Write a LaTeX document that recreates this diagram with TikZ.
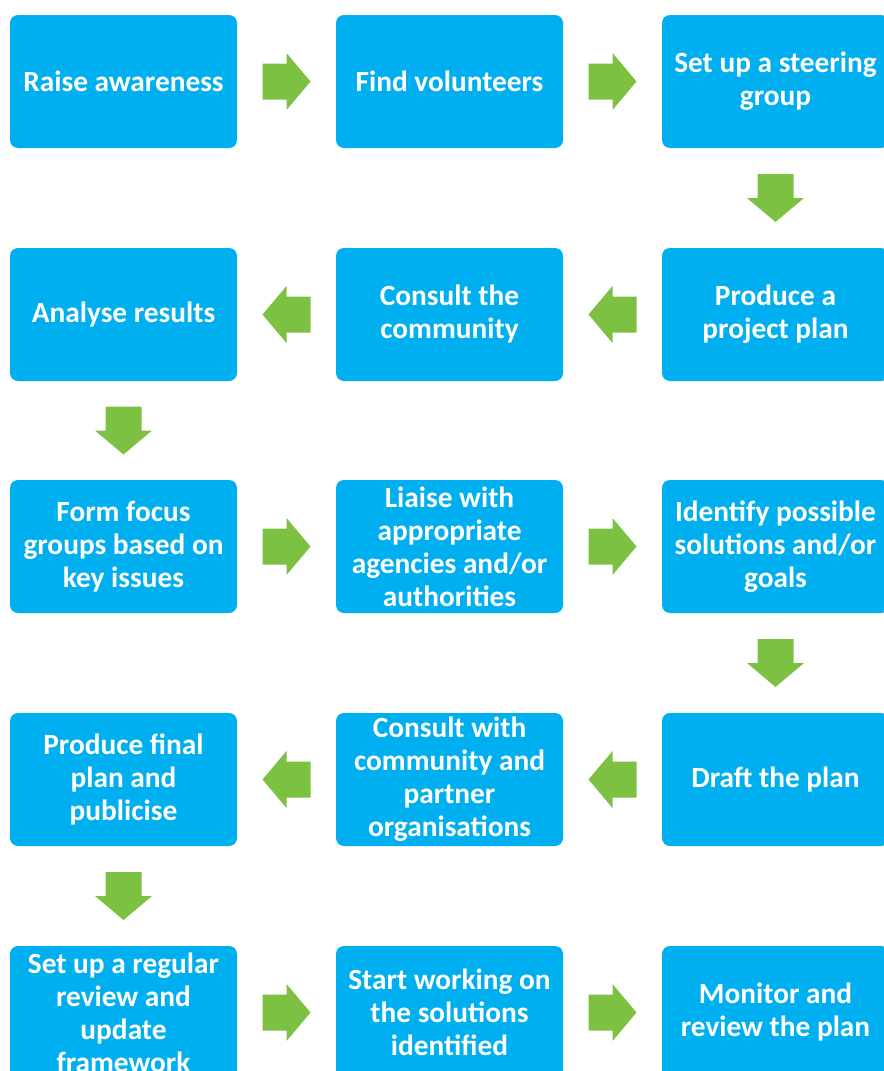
\documentclass[tikz,border=0pt]{standalone}
\usepackage{fontspec}
\setmainfont{Carlito}
\usetikzlibrary{calc}
\definecolor{boxblue}{RGB}{0,175,239}
\definecolor{arrowgreen}{RGB}{124,193,66}

\tikzset{
  stepbox/.style={fill=boxblue, rounded corners=6pt, minimum width=170.25pt,
    minimum height=99.75pt, inner sep=0pt, align=center, text=white,
    font=\fontsize{22}{24.75}\selectfont\bfseries},
  blockarrow/.pic={\fill[arrowgreen] (-24,-18) -- (0,-18) -- (0,-28.5) -- (24,0)
    -- (0,28.5) -- (0,18) -- (-24,18) -- cycle;}
}

\begin{document}
\begin{tikzpicture}[x=0.75pt,y=-0.75pt]
  \useasboundingbox (0,0) rectangle (884,1071);
  \clip (0,0) rectangle (884,1071);

  % row 1
  \node[stepbox] (aware)   at (123.5,81.5) {Raise awareness};
  \node[stepbox] (volunt)  at (449.5,81.5) {Find volunteers};
  \node[stepbox] (steer)   at (775.5,81.5) {Set up a steering\\group};

  % row 2
  \node[stepbox] (analyse) at (123.5,314.5) {Analyse results};
  \node[stepbox] (consult) at (449.5,314.5) {Consult the\\community};
  \node[stepbox] (project) at (775.5,314.5) {Produce a\\project plan};

  % row 3
  \node[stepbox] (focus)   at (123.5,546.5) {Form focus\\groups based on\\key issues};
  \node[stepbox] (liaise)  at (449.5,546.5) {Liaise with\\appropriate\\agencies and/or\\authorities};
  \node[stepbox] (ident)   at (775.5,546.5) {Identify possible\\solutions and/or\\goals};

  % row 4
  \node[stepbox] (final)   at (123.5,779.5) {Produce final\\plan and\\publicise};
  \node[stepbox] (partner) at (449.5,779.5) {Consult with\\community and\\partner\\organisations};
  \node[stepbox] (draft)   at (775.5,779.5) {Draft the plan};

  % row 5
  \node[stepbox] (review)  at (123.5,1012.5) {Set up a regular\\review and\\update\\framework};
  \node[stepbox] (start)   at (449.5,1012.5) {Start working on\\the solutions\\identified};
  \node[stepbox] (monitor) at (775.5,1012.5) {Monitor and\\review the plan};

  % green arrows
  \pic at ($(aware.east)!0.5!(volunt.west)$) {blockarrow};
  \pic at ($(volunt.east)!0.5!(steer.west)$) {blockarrow};
  \pic[rotate=-90] at ($(steer.south)!0.5!(project.north)$) {blockarrow};
  \pic[rotate=180] at ($(project.west)!0.5!(consult.east)$) {blockarrow};
  \pic[rotate=180] at ($(consult.west)!0.5!(analyse.east)$) {blockarrow};
  \pic[rotate=-90] at ($(analyse.south)!0.5!(focus.north)$) {blockarrow};
  \pic at ($(focus.east)!0.5!(liaise.west)$) {blockarrow};
  \pic at ($(liaise.east)!0.5!(ident.west)$) {blockarrow};
  \pic[rotate=-90] at ($(ident.south)!0.5!(draft.north)$) {blockarrow};
  \pic[rotate=180] at ($(draft.west)!0.5!(partner.east)$) {blockarrow};
  \pic[rotate=180] at ($(partner.west)!0.5!(final.east)$) {blockarrow};
  \pic[rotate=-90] at ($(final.south)!0.5!(review.north)$) {blockarrow};
  \pic at ($(review.east)!0.5!(start.west)$) {blockarrow};
  \pic at ($(start.east)!0.5!(monitor.west)$) {blockarrow};
\end{tikzpicture}
\end{document}
